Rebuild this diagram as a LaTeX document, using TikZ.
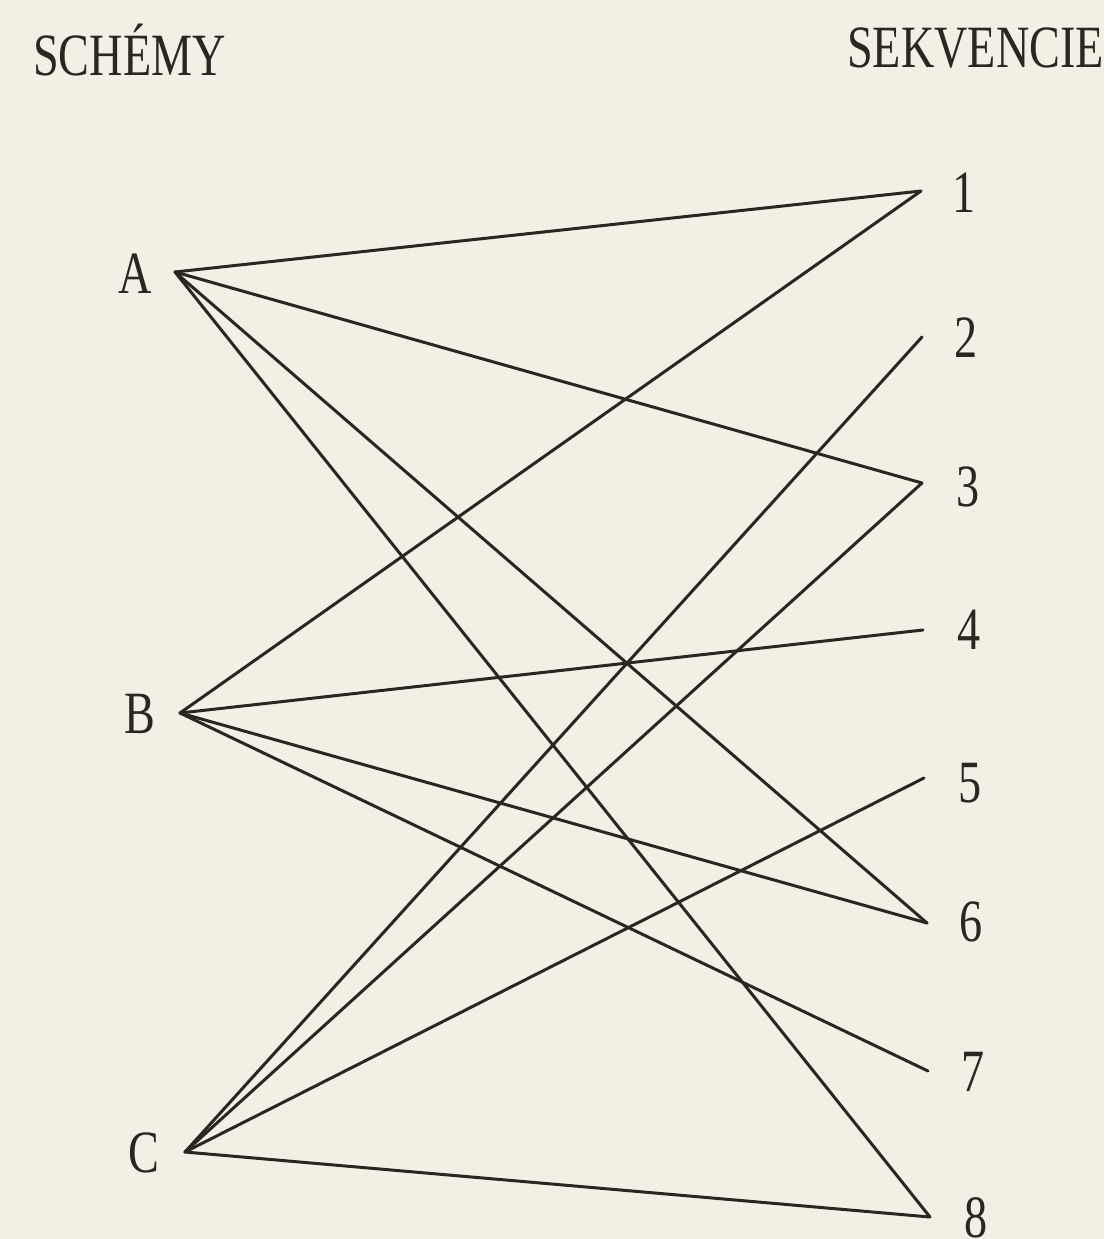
\documentclass[tikz,border=0pt]{standalone}
\usepackage{fontspec}
\setmainfont[FakeStretch=0.77]{Liberation Serif}
\definecolor{paper}{RGB}{243,239,228}
\definecolor{ink}{RGB}{42,38,34}
\begin{document}
\begin{tikzpicture}[x=1pt,y=-1pt,
  lbl/.style={inner sep=0pt,text=ink,font=\fontsize{60}{60}\selectfont},
  edge/.style={draw=ink,line width=3pt,line cap=round}]
\fill[paper] (0,0) rectangle (1104,1239);
\useasboundingbox (0,0) rectangle (1104,1239);
% headings
\node[lbl,anchor=base west] (hs) at (33,75) {SCHÉMY};
\node[lbl,anchor=base west] (hq) at (847,67) {SEKVENCIE};
% left labels
\node[lbl] (lA) at (135,274) {A};
\node[lbl] (lB) at (140,714) {B};
\node[lbl] (lC) at (144,1153) {C};
% right labels
\node[lbl] (l1) at (964,193) {1};
\node[lbl] (l2) at (966,338) {2};
\node[lbl] (l3) at (968,487) {3};
\node[lbl] (l4) at (969,630) {4};
\node[lbl] (l5) at (970,783) {5};
\node[lbl] (l6) at (971,922) {6};
\node[lbl] (l7) at (973,1072) {7};
\node[lbl] (l8) at (976,1218) {8};
% connection points
\coordinate (pA) at (175,272);
\coordinate (pB) at (180,713);
\coordinate (pC) at (185,1152);
\coordinate (p1) at (921,191);
\coordinate (p2) at (922,337);
\coordinate (p3) at (922,483);
\coordinate (p4) at (923,630);
\coordinate (p5) at (924,778);
\coordinate (p6) at (927,923);
\coordinate (p7) at (928,1071);
\coordinate (p8) at (930,1217);
% edges
\draw[edge] (pA) -- (p1);
\draw[edge] (pA) -- (p3);
\draw[edge] (pA) -- (p6);
\draw[edge] (pA) -- (p8);
\draw[edge] (pB) -- (p1);
\draw[edge] (pB) -- (p4);
\draw[edge] (pB) -- (p6);
\draw[edge] (pB) -- (p7);
\draw[edge] (pC) -- (p2);
\draw[edge] (pC) -- (p3);
\draw[edge] (pC) -- (p5);
\draw[edge] (pC) -- (p8);
\end{tikzpicture}
\end{document}
